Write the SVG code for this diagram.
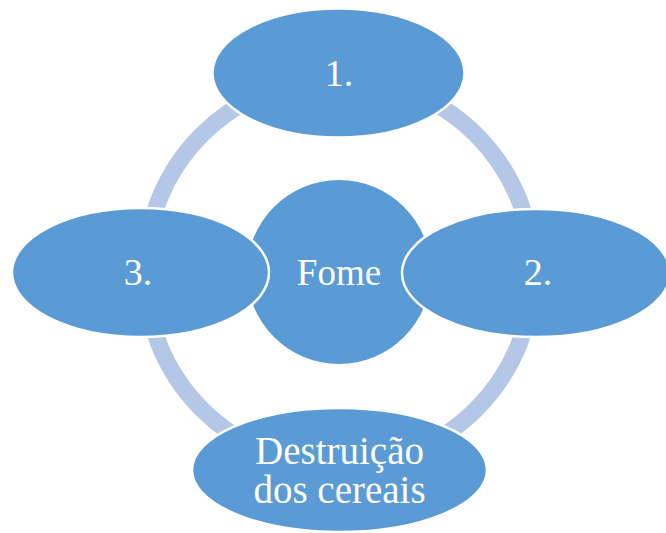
<svg xmlns="http://www.w3.org/2000/svg" width="666" height="533" viewBox="0 0 666 533">
<style>
.node{fill:#5B9BD5;stroke:#FFFFFF;stroke-width:2.5}
.lbl{font-family:"Liberation Serif","Times New Roman",serif;fill:#FFFFFF;text-anchor:middle}
</style>
<rect width="666" height="533" fill="#FFFFFF"/>
<g id="connectors">
<circle cx="339" cy="272" r="194" fill="none" stroke="#B4C7E7" stroke-width="17"/>
</g>
<g id="center">
<circle cx="339" cy="272" r="92" fill="#5B9BD5"/>
<text class="lbl" x="339" y="285" font-size="37">Fome</text>
</g>
<g id="node1">
<ellipse class="node" cx="338.5" cy="73" rx="126" ry="64.5"/>
<text class="lbl" x="339" y="86" font-size="38">1.</text>
</g>
<g id="node2">
<ellipse class="node" cx="536" cy="273" rx="134" ry="64"/>
<text class="lbl" x="538" y="285" font-size="38">2.</text>
</g>
<g id="node4">
<ellipse class="node" cx="339.5" cy="470" rx="147.5" ry="62"/>
<text class="lbl" x="339.5" y="464" font-size="39">Destruição</text>
<text class="lbl" x="339.5" y="503" font-size="39">dos cereais</text>
</g>
<g id="node3">
<ellipse class="node" cx="140.5" cy="272.5" rx="128.5" ry="64.5"/>
<text class="lbl" x="138" y="285" font-size="38">3.</text>
</g>
</svg>
